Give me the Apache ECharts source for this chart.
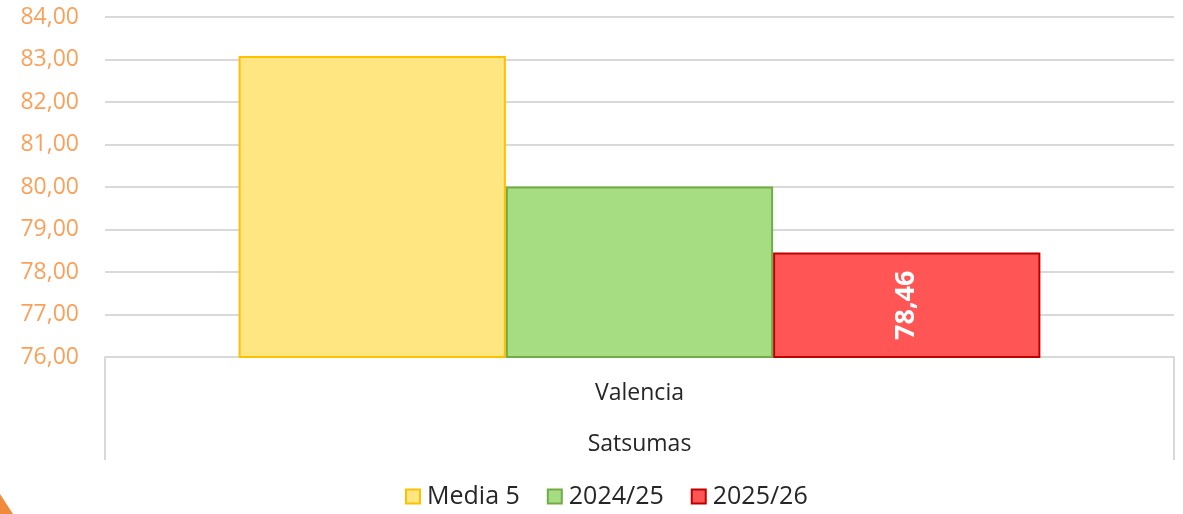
<!DOCTYPE html>
<html>
<head>
<meta charset="utf-8">
<script src="https://cdn.jsdelivr.net/npm/echarts@6/dist/echarts.min.js"></script>
<style>html,body{margin:0;padding:0;background:#fff}#c{width:1183px;height:514px}</style>
</head>
<body>
<div id="c"></div>
<script>
var categories = ['Valencia'];
var groups = ['Satsumas'];
var seriesNames = ['Media 5', '2024/25', '2025/26'];
var media5 = [83.08];
var s2425 = [80.01];
var s2526 = [78.46];

var fmt = function (v) { return Number(v).toFixed(2).replace('.', ','); };
var font = '"Open Sans", "Noto Sans", sans-serif';

var chart = echarts.init(document.getElementById('c'));
chart.setOption({
  animation: false,
  grid: { left: 105, right: 9, top: 17, bottom: 157, containLabel: false },
  legend: {
    bottom: 0,
    left: 400,
    itemWidth: 14,
    itemHeight: 14,
    itemGap: 27,
    icon: 'rect',
    textStyle: { fontFamily: font, fontSize: 25, color: '#262626', padding: [0, 0, 0, 2] },
    data: seriesNames
  },
  xAxis: [
    {
      type: 'category',
      data: categories,
      position: 'bottom',
      axisLine: { show: true, lineStyle: { color: '#D9D9D9', width: 2 } },
      axisTick: { show: true, length: 103, interval: 0, lineStyle: { color: '#D9D9D9', width: 2 } },
      axisLabel: { margin: 25, fontFamily: font, fontSize: 23, color: '#262626' }
    },
    {
      type: 'category',
      data: groups,
      position: 'bottom',
      axisLine: { show: false },
      axisTick: { show: false },
      axisLabel: { margin: 76, fontFamily: font, fontSize: 23, color: '#262626' }
    }
  ],
  yAxis: {
    type: 'value',
    min: 76, max: 84, interval: 1,
    axisLine: { show: false },
    axisTick: { show: false },
    splitLine: { lineStyle: { color: '#D9D9D9', width: 2 } },
    axisLabel: { formatter: fmt, fontFamily: font, fontSize: 23, color: '#F9A15A', margin: 26 }
  },
  series: [
    {
      name: seriesNames[0], type: 'bar', data: media5, barGap: '0%', barCategoryGap: '25%',
      itemStyle: { color: '#FFE680', borderColor: '#FFC000', borderWidth: 2 }
    },
    {
      name: seriesNames[1], type: 'bar', data: s2425,
      itemStyle: { color: '#A6DC82', borderColor: '#70AD47', borderWidth: 2 }
    },
    {
      name: seriesNames[2], type: 'bar', data: s2526,
      itemStyle: { color: '#FF5555', borderColor: '#C00000', borderWidth: 2 },
      label: {
        show: true, position: 'inside', rotate: 90, formatter: function (p) { return fmt(p.value); },
        color: '#fff', fontWeight: 'bold', fontFamily: '"Noto Sans", "DejaVu Sans", sans-serif', fontSize: 27
      }
    }
  ],
  graphic: [
    { type: 'polygon', shape: { points: [[0, 494], [0, 514], [13, 514]] }, style: { fill: '#F08A3C' } }
  ]
});
</script>
</body>
</html>
